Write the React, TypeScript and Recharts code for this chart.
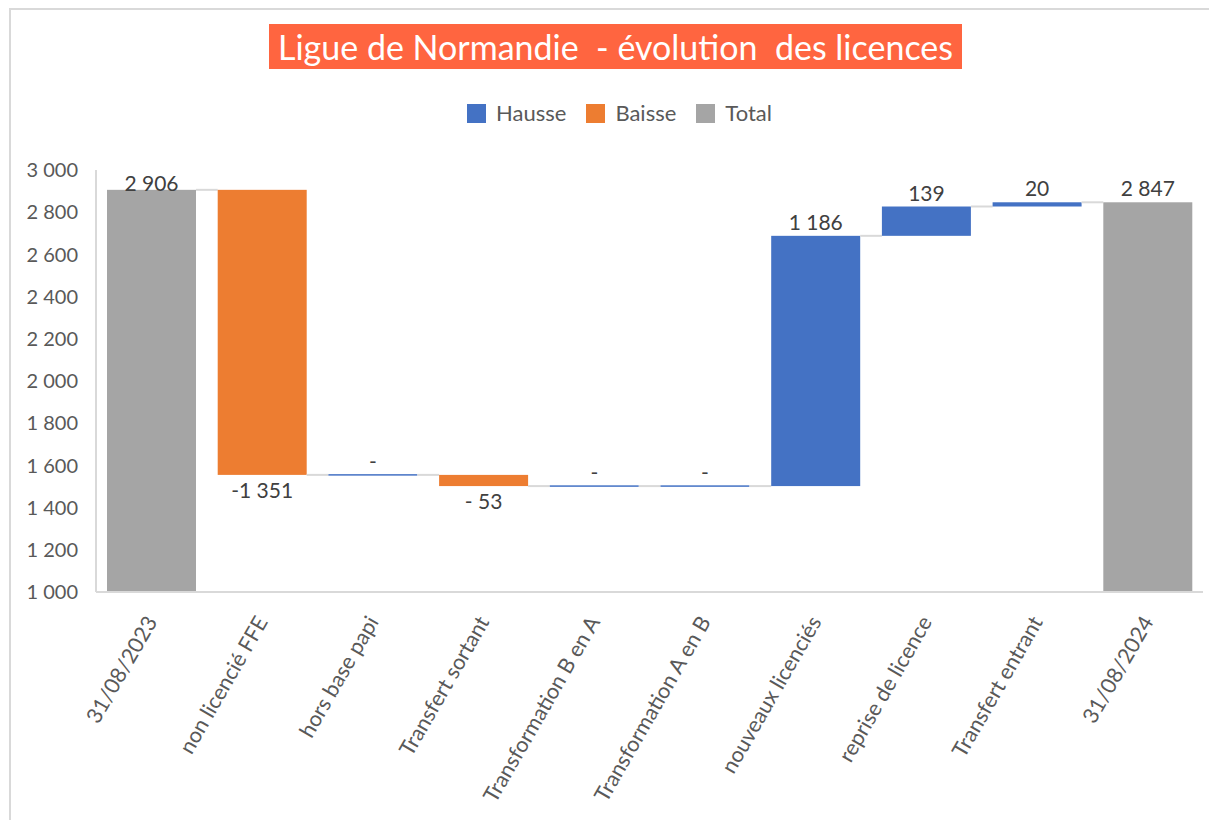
import React from "react";
import { BarChart, Bar, XAxis, YAxis, LabelList } from "recharts";

const FONT = "Lato, 'Open Sans', sans-serif";
const HAUSSE = "#4472C4";
const BAISSE = "#ED7D31";
const TOTAL = "#A5A5A5";
const LINE = "#D9D9D9";
const TEXT = "#595959";
const LABEL = "#404040";

const categories = [
  "31/08/2023",
  "non licencié FFE",
  "hors base papi",
  "Transfert sortant",
  "Transformation B en A",
  "Transformation A en B",
  "nouveaux licenciés",
  "reprise de licence",
  "Transfert entrant",
  "31/08/2024",
];
const values = [2906, -1351, 0, -53, 0, 0, 1186, 139, 20, 2847];
const isTotal = [true, false, false, false, false, false, false, false, false, true];
const yTicks = [1000, 1200, 1400, 1600, 1800, 2000, 2200, 2400, 2600, 2800, 3000];

const legendItems = [
  { label: "Hausse", color: HAUSSE },
  { label: "Baisse", color: BAISSE },
  { label: "Total", color: TOTAL },
];

// plot geometry (chart is 1209 x 820)
const PLOT_LEFT = 96;
const PLOT_RIGHT = 1203;
const PLOT_TOP = 170;
const BAND = (PLOT_RIGHT - PLOT_LEFT) / categories.length;
const BAR_W = 89;

type Kind = "total" | "up" | "down" | "zero";
type Row = { name: string; value: number; range: [number, number]; kind: Kind };

let running = 0;
const rows: Row[] = categories.map((name, i) => {
  const v = values[i];
  if (isTotal[i]) {
    running = v;
    return { name, value: v, range: [0, v], kind: "total" };
  }
  const start = running;
  running += v;
  const kind: Kind = v > 0 ? "up" : v < 0 ? "down" : "zero";
  return { name, value: v, range: [Math.min(start, running), Math.max(start, running)], kind };
});

function fmtThousands(n: number) {
  return Math.abs(n)
    .toString()
    .replace(/\B(?=(\d{3})+(?!\d))/g, " ");
}

function fmtLabel(v: number) {
  if (v === 0) return "-";
  if (v < 0) return (Math.abs(v) >= 1000 ? "-" : "- ") + fmtThousands(v);
  return fmtThousands(v);
}

function WaterfallBar(props: any) {
  const { x, y, width, height, index } = props;
  const row = rows[index];
  const top = Math.min(y, y + height);
  const bottom = Math.max(y, y + height);
  const level = row.kind === "down" ? bottom : top;
  const last = index === rows.length - 1;
  const fill = row.kind === "total" ? TOTAL : row.kind === "down" ? BAISSE : HAUSSE;
  return (
    <g>
      {row.kind === "zero" ? (
        <rect x={x} y={top - 0.75} width={width} height={1.5} fill={HAUSSE} />
      ) : (
        <rect x={x} y={top} width={width} height={bottom - top} fill={fill} />
      )}
      {!last && (
        <line
          x1={x + width}
          x2={x + width + (BAND - BAR_W)}
          y1={level}
          y2={level}
          stroke={LINE}
          strokeWidth={2}
        />
      )}
    </g>
  );
}

function ValueLabel(props: any) {
  const { x, y, width, height, index } = props;
  const row = rows[index];
  if (!row) return null;
  const top = Math.min(y, y + height);
  const bottom = Math.max(y, y + height);
  const ty = row.kind === "down" ? bottom + 23 : Math.max(top - 6, PLOT_TOP + 21);
  return (
    <text
      x={x + width / 2}
      y={ty}
      textAnchor="middle"
      fill={LABEL}
      fontSize={21}
      fontFamily={FONT}
    >
      {fmtLabel(row.value)}
    </text>
  );
}

function AngledTick(props: any) {
  const { x, y, payload } = props;
  return (
    <g transform={`translate(${x},${y + 18})`}>
      <text
        textAnchor="end"
        transform="rotate(-60)"
        dy="0.35em"
        fill={TEXT}
        fontSize={21.5}
        fontFamily={FONT}
      >
        {payload.value}
      </text>
    </g>
  );
}

export default function App() {
  return (
    <div
      style={{
        position: "absolute",
        left: 0,
        top: 0,
        width: 1209,
        height: 820,
        overflow: "hidden",
        background: "#fff",
        fontFamily: FONT,
      }}
    >
      <div
        style={{
          position: "absolute",
          left: 9,
          top: 8,
          width: 1220,
          height: 830,
          borderLeft: `2px solid ${LINE}`,
          borderTop: `2px solid ${LINE}`,
        }}
      />
      <div
        style={{
          position: "absolute",
          left: 269,
          top: 24,
          width: 693,
          height: 45,
          lineHeight: "45px",
          background: "#FF6540",
          color: "#fff",
          fontSize: 34,
          textAlign: "center",
          whiteSpace: "pre",
        }}
      >
        {"Ligue de Normandie  - évolution  des licences"}
      </div>
      <div
        style={{
          position: "absolute",
          left: 0,
          width: 1239,
          top: 101,
          display: "flex",
          justifyContent: "center",
          gap: 20,
          fontSize: 22,
          color: TEXT,
          lineHeight: "24px",
        }}
      >
        {legendItems.map((it) => (
          <div key={it.label} style={{ display: "flex", alignItems: "center", gap: 10 }}>
            <span style={{ width: 19, height: 19, background: it.color, display: "inline-block" }} />
            <span>{it.label}</span>
          </div>
        ))}
      </div>
      <div style={{ position: "absolute", left: 0, top: 0 }}>
        <BarChart
          width={1209}
          height={820}
          data={rows}
          margin={{ top: PLOT_TOP, right: 1209 - PLOT_RIGHT, bottom: 0, left: 0 }}
          barSize={BAR_W}
        >
          <XAxis
            dataKey="name"
            interval={0}
            height={228}
            axisLine={{ stroke: LINE, strokeWidth: 2 }}
            tickLine={false}
            tick={<AngledTick />}
          />
          <YAxis
            type="number"
            domain={[1000, 3000]}
            ticks={yTicks}
            allowDataOverflow
            width={PLOT_LEFT}
            axisLine={{ stroke: LINE, strokeWidth: 2 }}
            tickLine={false}
            tickSize={0}
            tickMargin={18}
            tick={{ fill: TEXT, fontSize: 20, fontFamily: FONT }}
            tickFormatter={fmtThousands}
          />
          <Bar dataKey="range" isAnimationActive={false} shape={WaterfallBar}>
            <LabelList dataKey="value" content={<ValueLabel />} />
          </Bar>
        </BarChart>
      </div>
    </div>
  );
}
